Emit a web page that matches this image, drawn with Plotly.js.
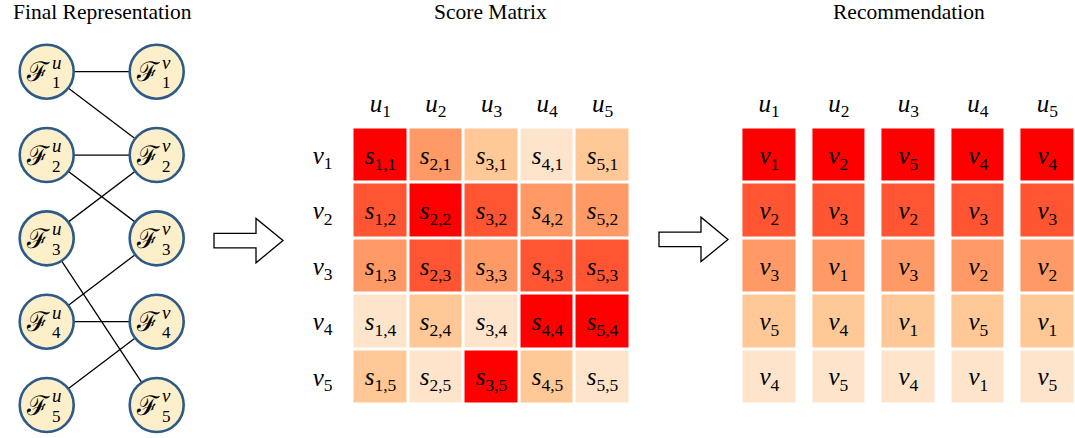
<!DOCTYPE html>
<html>
<head>
<meta charset="utf-8">
<script src="https://cdn.plot.ly/plotly-3.0.1.min.js"></script>
<style>html,body{margin:0;padding:0;background:#fff;}#chart{width:1075px;height:438px;}</style>
</head>
<body>
<div id="chart"></div>
<script>
// ---------- data ----------
const userLabels = ['<i>u</i><sub>1</sub>','<i>u</i><sub>2</sub>','<i>u</i><sub>3</sub>','<i>u</i><sub>4</sub>','<i>u</i><sub>5</sub>'];
const itemLabels = ['<i>v</i><sub>1</sub>','<i>v</i><sub>2</sub>','<i>v</i><sub>3</sub>','<i>v</i><sub>4</sub>','<i>v</i><sub>5</sub>'];
const userIdx = [1,2,3,4,5];
const itemIdx = [1,2,3,4,5];
// rank of score s_{u,v} within user column (1 = highest); rows v1..v5, cols u1..u5
const scoreRank = [
  [1,3,4,5,4],
  [2,1,2,3,3],
  [3,2,3,2,2],
  [5,4,5,1,1],
  [4,5,1,4,5]
];
// recommendation list per user (item index, best first)
const recU1 = [1,2,3,5,4];
const recU2 = [2,3,1,4,5];
const recU3 = [5,2,3,1,4];
const recU4 = [4,3,2,5,1];
const recU5 = [4,3,2,1,5];
const recLists = [recU1,recU2,recU3,recU4,recU5];
const rankLevels = [1,2,3,4,5];
// bipartite edges [user node, item node]
const edges = [[1,1],[1,2],[2,2],[2,3],[3,2],[3,5],[4,3],[4,4],[5,4]];
const titles = ['Final Representation','Score Matrix','Recommendation'];

// ---------- styling ----------
const W = 1075, H = 438;
const fx = p => p / W, fy = p => 1 - p / H;
const levelColors = ['#ff0000','#ff5533','#ff9966','#ffc896','#ffe4cc'];
const cscale = levelColors.map((c,i)=>[i/(levelColors.length-1), c]);
const mathFont = {family:'Liberation Serif, DejaVu Serif, serif', size:25, color:'#000'};

const scoreText = itemIdx.map(v => userIdx.map(u => `<i>s</i><sub>${u},${v}</sub>`));
const recZ = rankLevels.map(r => userIdx.map(() => r));
const recText = rankLevels.map((r,ri) => recLists.map(l => itemLabels[l[ri]-1]));

const traces = [];
// edges
const ex = [], ey = [];
edges.forEach(([a,b]) => { ex.push(0,1,null); ey.push(a,b,null); });
traces.push({type:'scatter', mode:'lines', x:ex, y:ey, xaxis:'x', yaxis:'y',
  line:{color:'#000', width:1.3}, hoverinfo:'skip', cliponaxis:false, showlegend:false});
// nodes
traces.push({type:'scatter', mode:'markers',
  x: userIdx.map(()=>0).concat(itemIdx.map(()=>1)),
  y: userIdx.concat(itemIdx), xaxis:'x', yaxis:'y',
  marker:{size:54, color:'#fdefc9', line:{color:'#2e5a88', width:2.6}},
  hoverinfo:'skip', cliponaxis:false, showlegend:false});
// score matrix
traces.push({type:'heatmap', x:userIdx.map(i=>i-1), y:itemIdx.map(i=>i-1), z:scoreRank,
  xaxis:'x2', yaxis:'y2', zmin:1, zmax:5, colorscale:cscale, showscale:false,
  xgap:3, ygap:3, text:scoreText, texttemplate:'%{text}', textfont:mathFont, hoverinfo:'skip'});
// recommendation
traces.push({type:'heatmap', x:userIdx.map(i=>i-1), y:rankLevels.map(i=>i-1), z:recZ,
  xaxis:'x3', yaxis:'y3', zmin:1, zmax:5, colorscale:cscale, showscale:false,
  xgap:17, ygap:3, text:recText, texttemplate:'%{text}', textfont:mathFont, hoverinfo:'skip'});

// node labels
const annotations = [];
const nodeSides = [['u',0],['v',1]];
nodeSides.forEach(([lab,xv]) => {
  [1,2,3,4,5].forEach(k => {
    annotations.push({xref:'x', yref:'y', x:xv, y:k, text:'ℱ', showarrow:false,
      xanchor:'right', yanchor:'middle', xshift:4.5, yshift:0, borderpad:0,
      font:{family:'DejaVu Serif, serif', size:27, color:'#000'}});
    annotations.push({xref:'x', yref:'y', x:xv, y:k, text:'<i>'+lab+'</i>', showarrow:false,
      xanchor:'left', yanchor:'bottom', xshift:4.5, yshift:-2, borderpad:0,
      font:{family:'Liberation Serif, serif', size:19, color:'#000'}});
    annotations.push({xref:'x', yref:'y', x:xv, y:k, text:String(k), showarrow:false,
      xanchor:'left', yanchor:'top', xshift:4.5, yshift:-0.5, borderpad:0,
      font:{family:'Liberation Serif, serif', size:17, color:'#000'}});
  });
});
// titles
const titleX = [102, 490, 909];
titles.forEach((t,i) => annotations.push({xref:'paper', yref:'paper', x:fx(titleX[i]), y:fy(12),
  text:t, showarrow:false, xanchor:'center', yanchor:'middle',
  font:{family:'Liberation Serif, serif', size:21.5, color:'#000'}}));

// arrows
function arrowPath(x0, yc){
  const pts = [[x0,yc-7.2],[x0+42,yc-7.2],[x0+42,yc-22.2],[x0+69,yc],[x0+42,yc+22.2],[x0+42,yc+7.2],[x0,yc+7.2]];
  return 'M' + pts.map(p => fx(p[0]).toFixed(5)+','+fy(p[1]).toFixed(5)).join(' L') + ' Z';
}
const shapes = [[214,240.6],[659,239.4]].map(([x0,yc]) => ({type:'path', xref:'paper', yref:'paper',
  path:arrowPath(x0,yc), fillcolor:'#fff', line:{color:'#000', width:1.3}}));

// axes geometry
const nodeUx = 46.7, nodeVx = 156.7, nodeY1 = 71.7, nodePitch = 83.33;
const xr0 = -nodeUx/(nodeVx-nodeUx), xr1 = xr0 + W/(nodeVx-nodeUx);
const yTop = 1 - nodeY1/nodePitch, yBot = yTop + H/nodePitch;
const recPitch = 69.575, recLeft = 734.4;

const hidden = {visible:false, fixedrange:true};
const layout = {
  width:W, height:H, margin:{l:0,r:0,t:0,b:0}, paper_bgcolor:'#fff', plot_bgcolor:'rgba(0,0,0,0)',
  showlegend:false,
  xaxis:Object.assign({domain:[0,1], range:[xr0,xr1], anchor:'y'}, hidden),
  yaxis:Object.assign({domain:[0,1], range:[yBot,yTop], anchor:'x'}, hidden),
  xaxis2:{domain:[fx(352.5), fx(630.5)], range:[-0.5,4.5], anchor:'y2', side:'top',
    tickmode:'array', tickvals:[0,1,2,3,4], ticktext:userLabels, ticks:'outside', ticklen:5,
    tickcolor:'rgba(0,0,0,0)', showgrid:false, zeroline:false, showline:false, tickfont:mathFont, fixedrange:true},
  yaxis2:{domain:[fy(404.5), fy(127.5)], range:[4.5,-0.5], anchor:'x2',
    tickmode:'array', tickvals:[0,1,2,3,4], ticktext:itemLabels, ticks:'outside', ticklen:14,
    tickcolor:'rgba(0,0,0,0)', showgrid:false, zeroline:false, showline:false, tickfont:mathFont, fixedrange:true},
  xaxis3:{domain:[fx(recLeft), 1], range:[-0.5, -0.5 + (W-recLeft)/recPitch], anchor:'y3', side:'top',
    tickmode:'array', tickvals:[0,1,2,3,4], ticktext:userLabels, ticks:'outside', ticklen:5,
    tickcolor:'rgba(0,0,0,0)', showgrid:false, zeroline:false, showline:false, tickfont:mathFont, fixedrange:true},
  yaxis3:{domain:[fy(404.5), fy(127.5)], range:[4.5,-0.5], anchor:'x3', visible:false, fixedrange:true},
  annotations:annotations, shapes:shapes
};
Plotly.newPlot('chart', traces, layout, {displayModeBar:false, staticPlot:true});
</script>
</body>
</html>
